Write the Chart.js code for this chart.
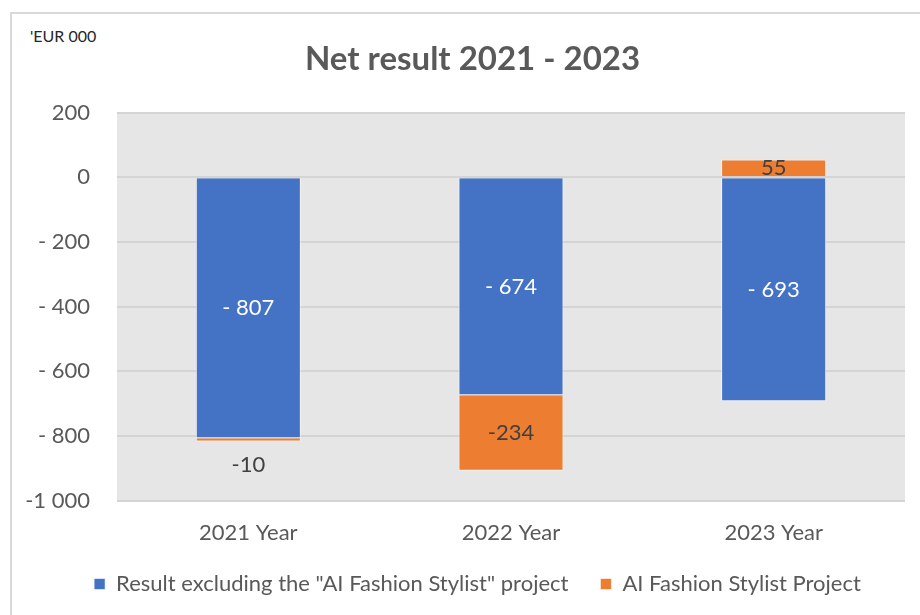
<!DOCTYPE html>
<html>
<head>
<meta charset="utf-8">
<script src="https://cdn.jsdelivr.net/npm/chart.js@4.4.0/dist/chart.umd.min.js"></script>
<style>
  html, body { margin: 0; padding: 0; background: #fff; overflow: hidden; }
  #frame { position: absolute; left: 10px; top: 12px; width: 1000px; height: 700px; border: 2px solid #d9d9d9; }
  #unit { position: absolute; left: 30px; top: 26px; font: 16px Lato, sans-serif; color: #262626; }
  #wrap { position: absolute; left: 0; top: 0; width: 920px; height: 615px; }
</style>
</head>
<body>
<div id="frame"></div>
<div id="unit">'EUR 000</div>
<div id="wrap"><canvas id="myChart"></canvas></div>
<script>
var years = ["2021 Year", "2022 Year", "2023 Year"];
var resultExcl = [-807, -674, -693];
var aiProject = [-10, -234, 55];
var resultExclLabels = ["- 807", "- 674", "- 693"];
var aiProjectLabels = ["-10", "-234", "55"];
var yTickValues = [200, 0, -200, -400, -600, -800, -1000];
var yTickLabels = ["200", "0", "- 200", "- 400", "- 600", "- 800", "-1 000"];

var plotBg = {
  id: 'plotBg',
  beforeDraw: function(chart) {
    var a = chart.chartArea;
    var ctx = chart.ctx;
    ctx.save();
    ctx.fillStyle = '#e7e6e6';
    ctx.fillRect(a.left, a.top, a.right - a.left, a.bottom - a.top);
    ctx.restore();
  }
};

// title and legend sit a bit right of the canvas centre in the original
var nudge = {
  id: 'nudge',
  afterLayout: function(chart) {
    if (chart.titleBlock) { chart.titleBlock.left += 20; chart.titleBlock.right += 20; }
    if (chart.legend) { chart.legend.left += 25; chart.legend.right += 25; }
  }
};

// value labels on the bars
var barLabels = {
  id: 'barLabels',
  afterDatasetsDraw: function(chart) {
    var ctx = chart.ctx;
    ctx.save();
    ctx.font = '22px Lato, sans-serif';
    ctx.textAlign = 'center';
    ctx.textBaseline = 'middle';
    chart.data.datasets.forEach(function(ds, di) {
      var meta = chart.getDatasetMeta(di);
      meta.data.forEach(function(bar, i) {
        var h = Math.abs(bar.base - bar.y);
        var y = (bar.y + bar.base) / 2;
        if (h < 10) y = Math.max(bar.y, bar.base) + 23;
        ctx.fillStyle = ds.labelColor;
        ctx.fillText(ds.labelText[i], bar.x, y);
      });
    });
    ctx.restore();
  }
};

var ctx = document.getElementById("myChart");
var myBarChart = new Chart(ctx, {
  type: 'bar',
  data: {
    labels: years,
    datasets: [{
      label: 'Result excluding the "AI Fashion Stylist" project',
      data: resultExcl,
      backgroundColor: '#4472c4',
      borderColor: 'rgba(255,255,255,0.6)',
      borderWidth: 1,
      barPercentage: 0.4,
      categoryPercentage: 1,
      labelText: resultExclLabels,
      labelColor: '#ffffff'
    }, {
      label: 'AI Fashion Stylist Project',
      data: aiProject,
      backgroundColor: '#ed7d31',
      borderColor: 'rgba(255,255,255,0.6)',
      borderWidth: 1,
      barPercentage: 0.4,
      categoryPercentage: 1,
      labelText: aiProjectLabels,
      labelColor: '#404040'
    }]
  },
  plugins: [plotBg, nudge, barLabels],
  options: {
    responsive: true,
    maintainAspectRatio: false,
    animation: false,
    layout: { padding: { left: 0, right: 15, top: 40, bottom: 10 } },
    plugins: {
      title: {
        display: true,
        text: 'Net result 2021 - 2023',
        color: '#595959',
        font: { family: 'Lato, sans-serif', size: 33, weight: 'bold' },
        padding: { top: 0, bottom: 33 }
      },
      legend: {
        position: 'bottom',
        labels: {
          color: '#595959',
          font: { family: 'Lato, sans-serif', size: 22 },
          boxWidth: 11,
          boxHeight: 11,
          padding: 32
        }
      },
      tooltip: { enabled: false }
    },
    scales: {
      x: {
        stacked: true,
        grid: { display: false },
        border: { display: false },
        afterFit: function(scale) { scale.height = scale.height - 16; },
        ticks: { color: '#595959', font: { family: 'Lato, sans-serif', size: 22 }, padding: 11 }
      },
      y: {
        stacked: true,
        min: -1000,
        max: 200,
        border: { display: false },
        grid: { color: '#d4d4d4', lineWidth: 2, drawTicks: false },
        afterFit: function(scale) { scale.width = 117; },
        ticks: {
          stepSize: 200,
          padding: 27,
          color: '#595959',
          font: { family: 'Lato, sans-serif', size: 22 },
          callback: function(v) {
            var i = yTickValues.indexOf(v);
            return i >= 0 ? yTickLabels[i] : '';
          }
        }
      }
    }
  }
});
</script>
</body>
</html>
